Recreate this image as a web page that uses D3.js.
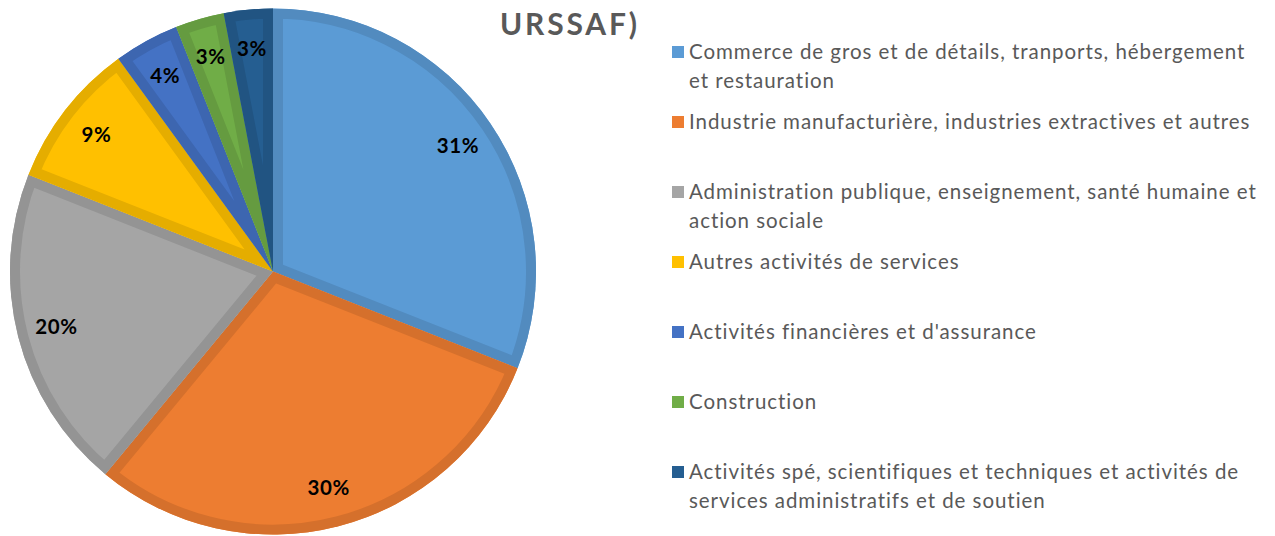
<!DOCTYPE html>
<html>
<head>
<meta charset="utf-8">
<script src="https://cdn.jsdelivr.net/npm/d3@7"></script>
<style>
  body { margin: 0; background: #fff; }
  svg { display: block; font-family: Lato, 'Open Sans', sans-serif; }
</style>
</head>
<body>
<svg id="chart" width="1275" height="536"></svg>
<script>
//

const categories = [
  ['Commerce de gros et de détails, tranports, hébergement', 'et restauration'],
  ['Industrie manufacturière, industries extractives et autres'],
  ['Administration publique, enseignement, santé humaine et', 'action sociale'],
  ['Autres activités de services'],
  ['Activités financières et d\'assurance'],
  ['Construction'],
  ['Activités spé, scientifiques et techniques et activités de', 'services administratifs et de soutien']
]
const shares = [31, 30, 20, 9, 4, 3, 3]
const colors = ['#5B9BD5', '#ED7D31', '#A5A5A5', '#FFC000', '#4472C4', '#70AD47', '#255E91']
const titleText = 'URSSAF)'

//

const cx = 273
const cy = 271.5
const radius = 263
const band = 10

const svg = d3.select('#chart')

const pie = d3.pie().sort(null).value((d) => d)
const arc = d3.arc().innerRadius(0).outerRadius(radius)
const labelArc = d3.arc().innerRadius(radius * 0.85).outerRadius(radius * 0.85)
const color = d3.scaleOrdinal().domain(d3.range(shares.length)).range(colors)

const arcs = pie(shares)

const defs = svg.append('defs')
defs.selectAll('clipPath')
  .data(arcs)
  .join('clipPath')
  .attr('id', (d, i) => 'slice-' + i)
  .append('path')
  .attr('d', arc)

const pieGroup = svg.append('g')
  .attr('transform', `translate(${cx},${cy})`)

const slice = pieGroup.selectAll('.slice')
  .data(arcs)
  .join('g')
  .attr('class', 'slice')

slice.append('path')
  .attr('d', arc)
  .attr('fill', (d, i) => color(i))

// darker inner rim, kept inside each slice by its own clip
slice.append('path')
  .attr('d', arc)
  .attr('fill', 'none')
  .attr('stroke', (d, i) => d3.color(color(i)).darker(0.3))
  .attr('stroke-width', band * 2)
  .attr('stroke-linejoin', 'round')
  .attr('clip-path', (d, i) => `url(#slice-${i})`)

pieGroup.selectAll('.pct')
  .data(arcs)
  .join('text')
  .attr('class', 'pct')
  .attr('transform', (d) => `translate(${labelArc.centroid(d)})`)
  .attr('text-anchor', 'middle')
  .attr('dy', '0.35em')
  .attr('font-size', 20.5)
  .attr('font-weight', 700)
  .attr('letter-spacing', 0.6)
  .attr('fill', '#000')
  .text((d) => d.data + '%')

//

svg.append('text')
  .attr('x', 500)
  .attr('y', 35)
  .attr('font-size', 30)
  .attr('font-weight', 700)
  .attr('letter-spacing', 2.8)
  .attr('fill', '#595959')
  .text(titleText)

//

const legendY = d3.scalePoint()
  .domain(d3.range(categories.length))
  .range([52, 472])

const legend = svg.append('g')
  .selectAll('.item')
  .data(categories)
  .join('g')
  .attr('class', 'item')
  .attr('transform', (d, i) => `translate(672,${legendY(i)})`)

legend.append('rect')
  .attr('x', 0)
  .attr('y', -6)
  .attr('width', 12)
  .attr('height', 12)
  .attr('fill', (d, i) => color(i))

legend.append('text')
  .attr('x', 17)
  .attr('font-size', 20.5)
  .attr('letter-spacing', 0.95)
  .attr('fill', '#595959')
  .selectAll('tspan')
  .data((d) => d)
  .join('tspan')
  .attr('x', 17)
  .attr('y', (d, i) => i * 29)
  .attr('dy', '0.35em')
  .text((d) => d)
</script>
</body>
</html>
